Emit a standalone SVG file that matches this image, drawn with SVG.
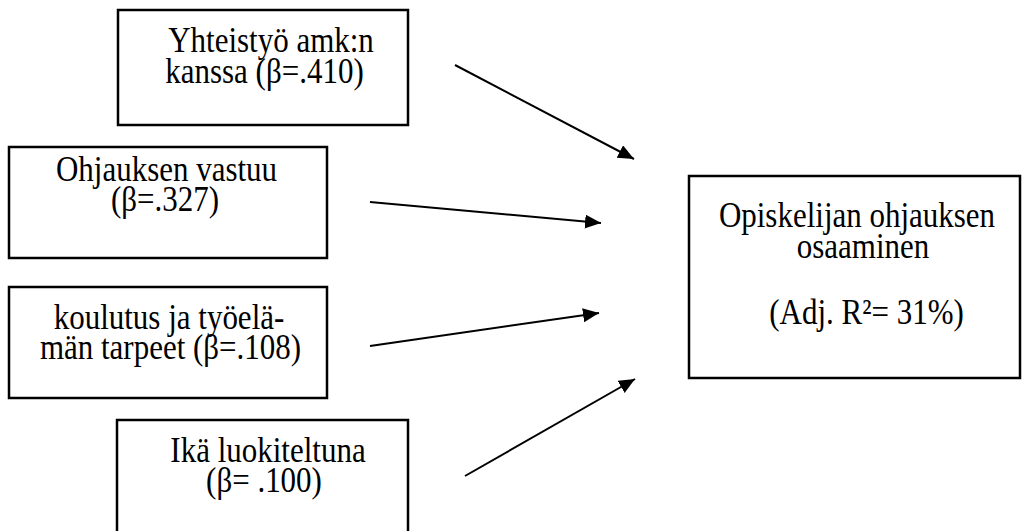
<svg xmlns="http://www.w3.org/2000/svg" width="1034" height="531" viewBox="0 0 1034 531">
<style>
.box{fill:#fff;stroke:#000;stroke-width:2.5}
.t{font-family:"Liberation Serif","Times New Roman",serif;font-size:31px;fill:#000;text-anchor:middle}
.c{stroke:#000;stroke-width:2;fill:none;marker-end:url(#ah)}
</style>
<defs>
<marker id="ah" markerUnits="userSpaceOnUse" markerWidth="18" markerHeight="16" refX="16" refY="7" orient="auto">
<path d="M0,0 L16,7 L0,14 Z" fill="#000"/>
</marker>
</defs>
<rect width="1034" height="531" fill="#fff"/>
<g id="n1">
<rect class="box" x="118" y="10" width="290" height="115"/>
<text class="t" transform="translate(271 52) scale(1 1.15)">Yhteistyö amk:n</text>
<text class="t" transform="translate(264.5 83) scale(1 1.15)">kanssa (β=.410)</text>
</g>
<g id="n2">
<rect class="box" x="9" y="147" width="318" height="111"/>
<text class="t" transform="translate(166.5 181) scale(1 1.15)">Ohjauksen vastuu</text>
<text class="t" transform="translate(165 211) scale(1 1.15)">(β=.327)</text>
</g>
<g id="n3">
<rect class="box" x="9" y="287" width="318" height="111"/>
<text class="t" transform="translate(169 329) scale(1 1.15)">koulutus ja työelä-</text>
<text class="t" transform="translate(170.5 359) scale(1 1.15)">män tarpeet (β=.108)</text>
</g>
<g id="n4">
<rect class="box" x="117" y="420" width="291" height="130"/>
<text class="t" transform="translate(268 462) scale(1 1.15)">Ikä luokiteltuna</text>
<text class="t" transform="translate(264 492) scale(1 1.15)">(β= .100)</text>
</g>
<g id="n5">
<rect class="box" x="689" y="176" width="331" height="202"/>
<text class="t" transform="translate(857 227) scale(1 1.15)">Opiskelijan ohjauksen</text>
<text class="t" transform="translate(863 258) scale(1 1.15)">osaaminen</text>
<text class="t" transform="translate(866.5 324) scale(1 1.15)">(Adj. R²= 31%)</text>
</g>
<g id="connectors">
<line class="c" x1="455" y1="65" x2="634" y2="159"/>
<line class="c" x1="370" y1="202" x2="601" y2="223"/>
<line class="c" x1="370" y1="346" x2="599" y2="313"/>
<line class="c" x1="465" y1="476" x2="635" y2="379"/>
</g>
</svg>
